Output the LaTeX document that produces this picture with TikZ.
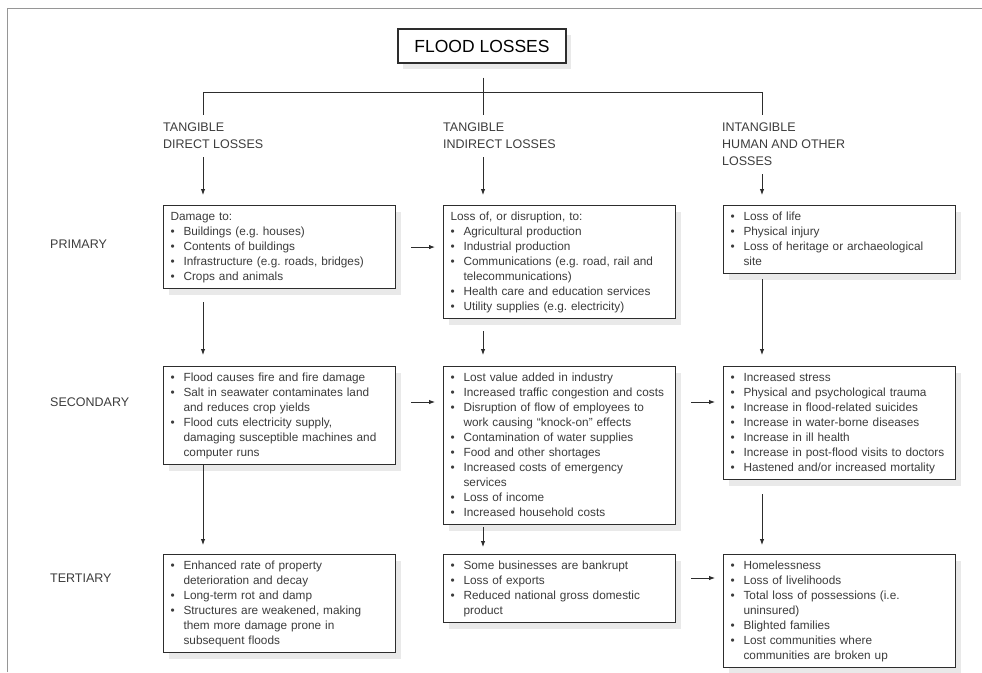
\documentclass[tikz,border=0pt]{standalone}
\usepackage{fontspec}
\setmainfont{Liberation Sans}
\usetikzlibrary{arrows.meta,positioning,shadows}
\definecolor{EdgeGray}{RGB}{45,45,45}
\definecolor{InkGray}{RGB}{60,60,60}
\definecolor{FrameGray}{RGB}{150,150,150}
\definecolor{ShadeGray}{RGB}{200,200,200}

\newcommand{\bhead}[1]{\noindent\strut#1\strut\par}
\newcommand{\bitem}[1]{\hangindent=13pt\hangafter=1\noindent\makebox[13pt][l]{\strut\textbullet}#1\strut\par}

\tikzset{
  lossbox/.style={draw=EdgeGray, line width=1.1pt, fill=white, anchor=north west,
    text width=218pt, inner xsep=7pt, inner ysep=4pt, align=left,
    font=\fontsize{11.8}{15}\selectfont\frenchspacing, text=InkGray,
    drop shadow={shadow xshift=5pt, shadow yshift=-6pt, fill=ShadeGray, opacity=0.4}},
  rowlabel/.style={anchor=west, inner sep=0pt, font=\fontsize{12.5}{15}\selectfont, text=InkGray},
  headlabel/.style={anchor=north west, inner sep=0pt, align=left,
    font=\fontsize{12.5}{17}\selectfont, text=InkGray},
  flow/.style={-{Latex[length=6pt,width=4.5pt]}, line width=0.9pt, draw=EdgeGray},
  tree/.style={line width=0.9pt, draw=EdgeGray}
}

\begin{document}
\begin{tikzpicture}[x=1pt,y=-1pt]
\useasboundingbox (0,0) rectangle (982,672);
\draw[FrameGray, line width=1pt] (7,672) -- (7,8) -- (982,8);

% title and branches
\node[draw=EdgeGray, line width=1.1pt, fill=white, minimum width=168pt, minimum height=34pt,
      font=\fontsize{17.5}{20}\selectfont,
      drop shadow={shadow xshift=5pt, shadow yshift=-6pt, fill=ShadeGray, opacity=0.4}]
      (title) at (482,46) {FLOOD LOSSES};
\coordinate (c1) at (203,92);
\coordinate (c2) at (483,92);
\coordinate (c3) at (762,92);
\coordinate (d1) at (203,115);
\coordinate (d2) at (483,115);
\coordinate (d3) at (762,115);
\draw[tree] (c1) -- (c3);
\draw[tree, shorten <=14pt] (title.south -| c2) -- (d2);
\draw[tree] (c1) -- (d1);
\draw[tree] (c3) -- (d3);

\node[headlabel] (h1) at (163,123) {TANGIBLE\\DIRECT LOSSES};
\node[headlabel] (h2) at (443,123) {TANGIBLE\\INDIRECT LOSSES};
\node[headlabel] (h3) at (722,123) {INTANGIBLE\\HUMAN AND OTHER\\LOSSES};

% row labels
\node[rowlabel] (prow) at (50,244) {PRIMARY};
\node[rowlabel] (srow) at (50,402) {SECONDARY};
\node[rowlabel] (trow) at (50,578) {TERTIARY};

% primary
\node[lossbox] (p1) at (163,205) {\bhead{Damage to:}
  \bitem{Buildings (e.g. houses)}
  \bitem{Contents of buildings}
  \bitem{Infrastructure (e.g. roads, bridges)}
  \bitem{Crops and animals}};
\node[lossbox] (p2) at (443,205) {\bhead{Loss of, or disruption, to:}
  \bitem{Agricultural production}
  \bitem{Industrial production}
  \bitem{Communications (e.g. road, rail and\newline telecommunications)}
  \bitem{Health care and education services}
  \bitem{Utility supplies (e.g. electricity)}};
\node[lossbox] (p3) at (723,205) {\bitem{Loss of life}
  \bitem{Physical injury}
  \bitem{Loss of heritage or archaeological\newline site}};

% secondary
\node[lossbox] (s1) at (163,366) {\bitem{Flood causes fire and fire damage}
  \bitem{Salt in seawater contaminates land\newline and reduces crop yields}
  \bitem{Flood cuts electricity supply,\newline damaging susceptible machines and\newline computer runs}};
\node[lossbox] (s2) at (443,366) {\bitem{Lost value added in industry}
  \bitem{Increased traffic congestion and costs}
  \bitem{Disruption of flow of employees to\newline work causing ``knock-on'' effects}
  \bitem{Contamination of water supplies}
  \bitem{Food and other shortages}
  \bitem{Increased costs of emergency\newline services}
  \bitem{Loss of income}
  \bitem{Increased household costs}};
\node[lossbox] (s3) at (723,366) {\bitem{Increased stress}
  \bitem{Physical and psychological trauma}
  \bitem{Increase in flood-related suicides}
  \bitem{Increase in water-borne diseases}
  \bitem{Increase in ill health}
  \bitem{Increase in post-flood visits to doctors}
  \bitem{Hastened and/or increased mortality}};

% tertiary
\node[lossbox] (t1) at (163,554) {\bitem{Enhanced rate of property\newline deterioration and decay}
  \bitem{Long-term rot and damp}
  \bitem{Structures are weakened, making\newline them more damage prone in\newline subsequent floods}};
\node[lossbox] (t2) at (443,554) {\bitem{Some businesses are bankrupt}
  \bitem{Loss of exports}
  \bitem{Reduced national gross domestic\newline product}};
\node[lossbox] (t3) at (723,554) {\bitem{Homelessness}
  \bitem{Loss of livelihoods}
  \bitem{Total loss of possessions (i.e.\newline uninsured)}
  \bitem{Blighted families}
  \bitem{Lost communities where\newline communities are broken up}};

% arrows
\draw[flow, shorten <=8pt, shorten >=10pt] (h1.south -| c1) -- (p1.north -| c1);
\draw[flow, shorten <=8pt, shorten >=10pt] (h2.south -| c2) -- (p2.north -| c2);
\draw[flow, shorten <=8pt, shorten >=10pt] (h3.south -| c3) -- (p3.north -| c3);

\draw[flow, shorten <=13pt, shorten >=11pt] (p1.south -| c1) -- (s1.north -| c1);
\draw[flow, shorten <=12pt, shorten >=11pt] (p2.south -| c2) -- (s2.north -| c2);
\draw[flow, shorten <=5pt, shorten >=11pt] (p3.south -| c3) -- (s3.north -| c3);
\draw[flow, shorten >=9pt] (s1.south -| c1) -- (t1.north -| c1);
\draw[flow, shorten <=2pt, shorten >=7pt] (s2.south -| c2) -- (t2.north -| c2);
\draw[flow, shorten <=14pt, shorten >=9pt] (s3.south -| c3) -- (t3.north -| c3);

\draw[flow, shorten <=15pt, shorten >=8pt] (p1.east) -- (p2.west |- p1.east);
\draw[flow, shorten <=15pt, shorten >=8pt] (s1.east |- srow) -- (s2.west |- srow);
\draw[flow, shorten <=15pt, shorten >=8pt] (s2.east |- srow) -- (s3.west |- srow);
\draw[flow, shorten <=15pt, shorten >=8pt] (t2.east |- trow) -- (t3.west |- trow);
\end{tikzpicture}
\end{document}
